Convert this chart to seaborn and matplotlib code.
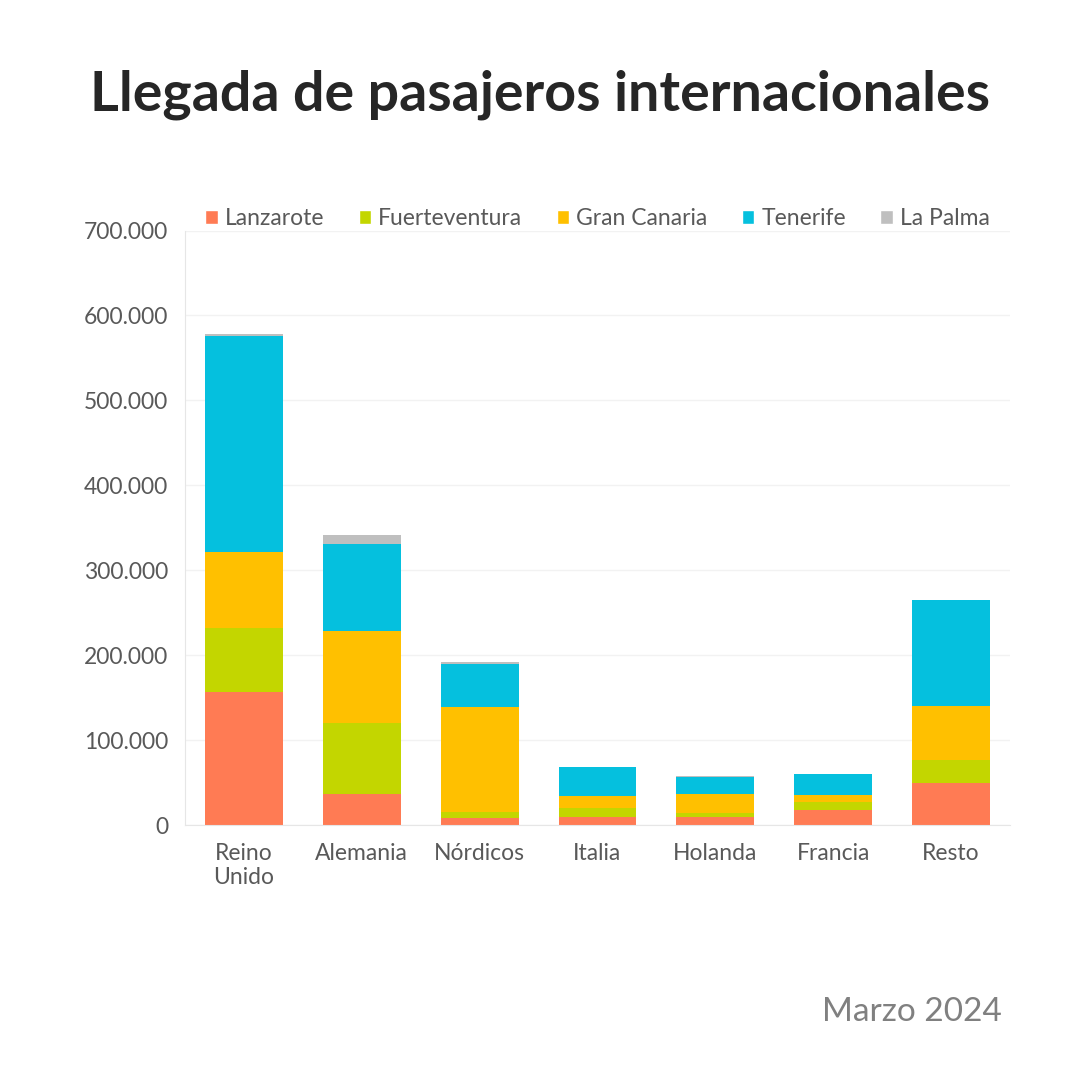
import numpy as np
import pandas as pd
import matplotlib.pyplot as plt
import seaborn as sns
from matplotlib.ticker import FuncFormatter
from matplotlib.patches import Patch

# Datos (valores estimados del gráfico)
paises = ["Reino\nUnido", "Alemania", "Nórdicos", "Italia", "Holanda", "Francia", "Resto"]
islas = ["Lanzarote", "Fuerteventura", "Gran Canaria", "Tenerife", "La Palma"]
colores = ["#ff7b54", "#c3d600", "#ffc000", "#05c0de", "#bfbfbf"]

lanzarote = [157000, 36000, 8000, 10000, 9000, 18000, 49000]
fuerteventura = [75000, 84000, 7000, 10000, 5000, 9000, 28000]
gran_canaria = [89000, 109000, 124000, 14000, 23000, 8000, 63000]
tenerife = [255000, 102000, 51000, 34000, 20000, 25000, 125000]
la_palma = [2000, 10500, 2500, 0, 500, 0, 0]

series = [lanzarote, fuerteventura, gran_canaria, tenerife, la_palma]

sns.set_style("white")
plt.rcParams['font.family'] = ['Lato', 'DejaVu Sans']

fig = plt.figure(figsize=(10.8, 10.8), dpi=100)
ax = fig.add_axes([185 / 1080, 1 - 825 / 1080, 825 / 1080, 594.5 / 1080])

# apilar: dibujar acumulados de arriba hacia abajo
acum = np.cumsum(np.array(series), axis=0)
for i in range(len(islas) - 1, -1, -1):
    df = pd.DataFrame({"pais": paises, "valor": acum[i]})
    sns.barplot(data=df, x="pais", y="valor", color=colores[i], saturation=1,
                width=0.66, ax=ax, linewidth=0)

ax.set_ylim(0, 700000)
ax.set_xlim(-0.5, 6.5)
ax.set_yticks(range(0, 700001, 100000))
ax.yaxis.set_major_formatter(FuncFormatter(lambda v, p: f"{int(v):,}".replace(",", ".")))
ax.set_xlabel("")
ax.set_ylabel("")
ax.grid(axis="y", color="#f2f2f2", linewidth=1)
ax.set_axisbelow(True)
for s in ["top", "right"]:
    ax.spines[s].set_visible(False)
for s in ["left", "bottom"]:
    ax.spines[s].set_color("#e6e6e6")
ax.tick_params(axis="y", length=0, labelsize=16.5, labelcolor="#595959", pad=12)
ax.tick_params(axis="x", length=0, labelsize=16.5, labelcolor="#595959", pad=13)
for lbl in ax.get_xticklabels():
    lbl.set_linespacing(1.2)

handles = [Patch(facecolor=c, label=l) for c, l in zip(colores, islas)]
ax.legend(handles=handles, loc="lower center", bbox_to_anchor=(0.5, 0.967), ncol=5,
          frameon=False, fontsize=16.5, handlelength=0.55, handleheight=0.55,
          handletextpad=0.3, columnspacing=1.5, labelcolor="#595959")

fig.text(0.5, 1 - 95 / 1080, "Llegada de pasajeros internacionales", ha="center", va="center",
         fontsize=40, fontweight="bold", color="#262626")
fig.text(1002 / 1080, 1 - 1012 / 1080, "Marzo 2024", ha="right", va="center",
         fontsize=24, color="#808080")

fig.savefig("out.png", dpi=100, facecolor="white")
